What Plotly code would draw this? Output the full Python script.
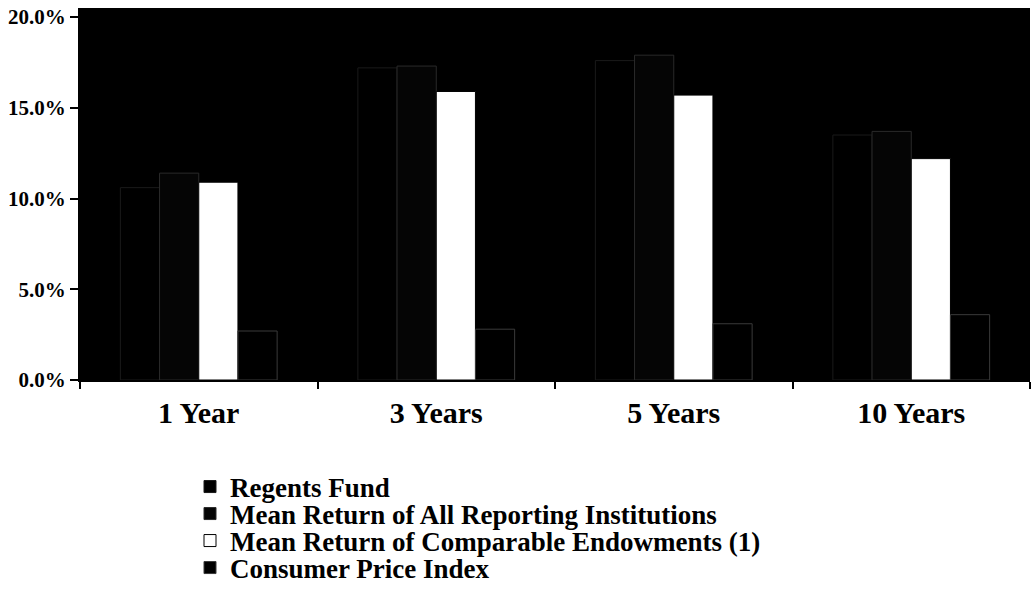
import plotly.graph_objects as go

categories = ["1 Year", "3 Years", "5 Years", "10 Years"]
regents_fund = [10.6, 17.2, 17.6, 13.5]
mean_all = [11.4, 17.3, 17.9, 13.7]
mean_comparable = [10.9, 15.9, 15.7, 12.2]
cpi = [2.7, 2.8, 3.1, 3.6]
y_ticks = [0, 5, 10, 15, 20]
series_names = [
    "Regents Fund",
    "Mean Return of All Reporting Institutions",
    "Mean Return of Comparable Endowments (1)",
    "Consumer Price Index",
]

serif = "Liberation Serif, Times New Roman, serif"
W, H = 1033, 602

fig = go.Figure()
styles = [("#000000", "#1a1a1a"), ("#050505", "#2a2a2a"),
          ("#ffffff", "#000000"), ("#000000", "#3a3a3a")]
values = [regents_fund, mean_all, mean_comparable, cpi]
legend_ids = ["legend", "legend2", "legend3", "legend4"]
for name, vals, (col, line), lid in zip(series_names, values, styles, legend_ids):
    fig.add_trace(go.Bar(
        x=categories, y=vals, name=name, legend=lid,
        marker=dict(color=col, line=dict(color=line, width=1)),
    ))

legend_centers = [487, 514, 541, 568]
leg_common = dict(
    xref="container", yref="container", xanchor="left", yanchor="middle",
    font=dict(family=serif, size=27, color="black", weight="bold"),
    bgcolor="rgba(0,0,0,0)", itemwidth=30, borderwidth=0,
)
legends = {}
for lid, cy in zip(legend_ids, legend_centers):
    legends[lid] = dict(leg_common, x=190 / W, y=1 - cy / H)

fig.update_layout(
    width=W, height=H,
    margin=dict(l=80, r=3, t=8, b=222, autoexpand=False),
    paper_bgcolor="white",
    plot_bgcolor="black",
    barmode="group",
    bargap=0.34,
    bargroupgap=0,
    showlegend=True,
    font=dict(family=serif, color="black"),
    **legends,
)
fig.update_xaxes(
    tickfont=dict(family=serif, size=30, color="black", weight="bold"),
    tickangle=0, ticklabelstandoff=5,
    ticks="outside", tickson="boundaries", ticklen=7, tickcolor="black", tickwidth=2,
    showline=True, linecolor="black", linewidth=2,
    showgrid=False, automargin=False,
)
fig.update_yaxes(
    range=[0, 20.5],
    tickvals=y_ticks,
    ticktext=[f"{v:.1f}%" for v in y_ticks],
    tickfont=dict(family=serif, size=21, color="black", weight="bold"),
    ticklabeloverflow="allow",
    ticks="outside", ticklen=8, tickcolor="black", tickwidth=2,
    showline=True, linecolor="black", linewidth=2,
    showgrid=False, zeroline=False, automargin=False,
)
fig.write_html("out.html", config={"displayModeBar": False},
               post_script="document.body.style.margin='0';")
